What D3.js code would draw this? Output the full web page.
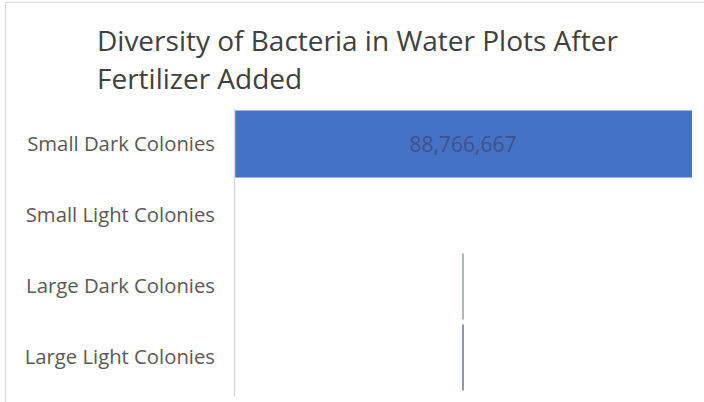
<!DOCTYPE html>
<html>
<head>
<meta charset="utf-8">
<script src="https://cdn.jsdelivr.net/npm/d3@7"></script>
<style>
  html, body { margin: 0; padding: 0; background: #fff; }
  svg { display: block; }
</style>
</head>
<body>
<svg id="chart" width="704" height="402"></svg>
<script>
// Colony counts per category
const categories = ["Small Dark Colonies", "Small Light Colonies", "Large Dark Colonies", "Large Light Colonies"];
const values = [88766667, 0, 0, 0];
const valueLabels = ["88,766,667", "", "", ""];
// Thin marker strokes shown for the large-colony rows
const markerCategories = ["Large Dark Colonies", "Large Light Colonies"];
const markerColors = ["#b4b6bf", "#8e95c6"];
const titleLines = ["Diversity of Bacteria in Water Plots After", "Fertilizer Added"];

const svg = d3.select("#chart");
const W = 704, H = 402;
const plot = { left: 234, right: 692, top: 108.5, bottom: 392.5 };

// Chart frame
svg.append("rect")
  .attr("x", 5.5).attr("y", 2.5)
  .attr("width", W + 20).attr("height", H + 20)
  .attr("fill", "#fff").attr("stroke", "#d9d9d9").attr("stroke-width", 1);

// Title
const title = svg.append("text")
  .attr("font-family", "'Open Sans', sans-serif")
  .attr("font-size", 28)
  .attr("fill", "#404040");
titleLines.forEach((t, i) => {
  title.append("tspan").attr("x", 97).attr("y", 51 + i * 38).text(t);
});

const x = d3.scaleLinear().domain([0, d3.max(values)]).range([plot.left, plot.right]);
const y = d3.scaleBand().domain(categories).range([plot.top, plot.bottom])
  .paddingInner(0.056).paddingOuter(0.028);

// Category axis
const yAxis = d3.axisLeft(y).tickSize(0).tickPadding(19);
const gy = svg.append("g").attr("transform", `translate(${plot.left},0)`).call(yAxis);
gy.select(".domain").remove();
gy.selectAll("text")
  .attr("font-family", "'Open Sans', sans-serif")
  .attr("font-size", 20.3)
  .attr("fill", "#595959");

// Bars
svg.append("g").selectAll("rect")
  .data(categories.map((c, i) => ({ c, v: values[i] })))
  .join("rect")
  .attr("x", x(0))
  .attr("y", d => y(d.c))
  .attr("width", d => x(d.v) - x(0))
  .attr("height", y.bandwidth())
  .attr("fill", "#4472c4");

// Value labels centred in bars
svg.append("g").selectAll("text")
  .data(categories.map((c, i) => ({ c, v: values[i], t: valueLabels[i] })).filter(d => d.t))
  .join("text")
  .attr("x", d => (x(0) + x(d.v)) / 2)
  .attr("y", d => y(d.c) + y.bandwidth() / 2)
  .attr("dy", "0.36em")
  .attr("text-anchor", "middle")
  .attr("font-family", "'Open Sans', sans-serif")
  .attr("font-size", 21)
  .attr("fill", "#44508a")
  .text(d => d.t);

// Marker strokes at the middle of the value range
const mid = x(d3.max(values) / 2);
svg.append("g").selectAll("rect")
  .data(markerCategories)
  .join("rect")
  .attr("x", mid - 1)
  .attr("y", d => y(d) + 1)
  .attr("width", 2)
  .attr("height", y.bandwidth() - 1)
  .attr("fill", (d, i) => markerColors[i]);

// Category axis line
svg.append("line")
  .attr("x1", plot.left + 0.5).attr("x2", plot.left + 0.5)
  .attr("y1", plot.top).attr("y2", plot.bottom + 4)
  .attr("stroke", "#d9d9d9").attr("stroke-width", 1.5);
</script>
</body>
</html>
